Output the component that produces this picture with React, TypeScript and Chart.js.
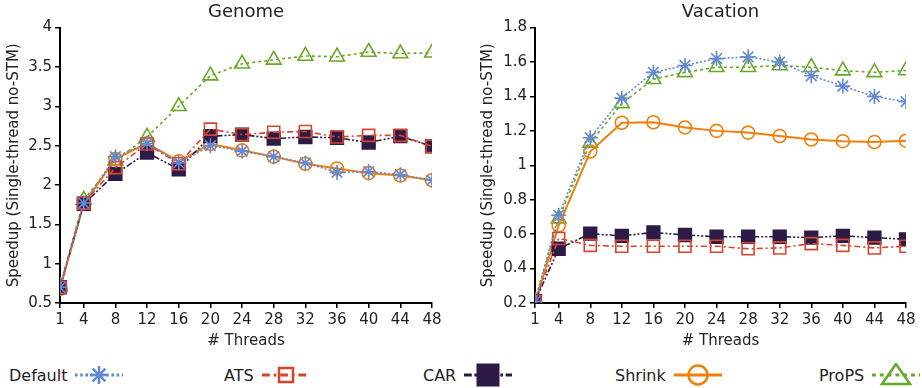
import React, { useEffect, useRef } from "react";
import { Chart, registerables } from "chart.js";

Chart.register(...registerables);

const THREADS = [1, 4, 8, 12, 16, 20, 24, 28, 32, 36, 40, 44, 48];
const SERIES_NAMES = ["Default", "ATS", "CAR", "Shrink", "ProPS"];

const GENOME_DEFAULT = [0.7, 1.77, 2.36, 2.53, 2.28, 2.5, 2.43, 2.36, 2.28, 2.16, 2.17, 2.13, 2.06];
const GENOME_ATS = [0.7, 1.77, 2.22, 2.52, 2.27, 2.71, 2.64, 2.67, 2.68, 2.61, 2.63, 2.63, 2.49];
const GENOME_CAR = [0.7, 1.76, 2.14, 2.41, 2.2, 2.62, 2.64, 2.59, 2.61, 2.6, 2.54, 2.62, 2.49];
const GENOME_SHRINK = [0.68, 1.76, 2.33, 2.53, 2.3, 2.52, 2.44, 2.36, 2.27, 2.21, 2.15, 2.12, 2.06];
const GENOME_PROPS = [0.71, 1.81, 2.31, 2.61, 3.0, 3.39, 3.54, 3.59, 3.64, 3.63, 3.69, 3.67, 3.68];

const VACATION_DEFAULT = [0.21, 0.71, 1.16, 1.39, 1.54, 1.58, 1.62, 1.63, 1.6, 1.52, 1.46, 1.4, 1.37];
const VACATION_ATS = [0.21, 0.575, 0.535, 0.53, 0.53, 0.53, 0.53, 0.515, 0.52, 0.545, 0.535, 0.52, 0.53];
const VACATION_CAR = [0.21, 0.515, 0.603, 0.59, 0.61, 0.595, 0.585, 0.585, 0.585, 0.58, 0.59, 0.58, 0.57];
const VACATION_SHRINK = [0.2, 0.65, 1.08, 1.247, 1.25, 1.22, 1.2, 1.19, 1.17, 1.15, 1.14, 1.135, 1.143];
const VACATION_PROPS = [0.21, 0.69, 1.13, 1.36, 1.5, 1.54, 1.57, 1.57, 1.58, 1.57, 1.55, 1.54, 1.551];

const GENOME_TITLE = "Genome";
const VACATION_TITLE = "Vacation";
const X_TITLE = "# Threads";
const Y_TITLE = "Speedup (Single-thread no-STM)";

const FONT = "'DejaVu Sans', sans-serif";
const TEXT = "#222";

const STYLES = [
  { color: "#6388d4", dash: [2, 2], point: "star", radius: 7.5, fill: false, width: 1.6 },
  { color: "#d8442c", dash: [6, 3, 2, 3], point: "rect", radius: 8.5, fill: false, width: 1.6 },
  { color: "#2c1b45", dash: [6, 2, 2, 2, 2, 2], point: "rect", radius: 9, fill: true, width: 1.6 },
  { color: "#f07e0a", dash: [], point: "circle", radius: 6.5, fill: false, width: 2 },
  { color: "#66a828", dash: [3, 3], point: "triangle", radius: 8.5, fill: false, width: 1.6 },
];

function makeChart(
  canvas: HTMLCanvasElement,
  title: string,
  series: number[][],
  yMin: number,
  yMax: number,
  yStep: number,
  padLeft: number,
  yWidth: number,
  padRight: number
) {
  const datasets = series.map((vals, i) => {
    const s = STYLES[i];
    return {
      label: SERIES_NAMES[i],
      data: THREADS.map((t, j) => ({ x: t, y: vals[j] })),
      borderColor: s.color,
      borderWidth: s.width,
      borderDash: s.dash,
      pointStyle: s.point,
      pointRadius: s.radius,
      pointBorderWidth: 1.6,
      pointBorderColor: s.color,
      pointBackgroundColor: s.fill ? s.color : "rgba(255,255,255,0)",
      fill: false,
      tension: 0,
    };
  });
  return new Chart(canvas, {
    type: "line",
    data: { datasets } as any,
    options: {
      responsive: false,
      animation: false,
      layout: { padding: { left: padLeft, right: padRight, top: 0, bottom: 0 } },
      plugins: {
        legend: { display: false },
        tooltip: { enabled: false },
        title: {
          display: true,
          text: title,
          fullSize: false,
          color: TEXT,
          font: { family: FONT, size: 18, weight: "normal" },
          padding: { top: 2, bottom: 4 },
        },
      },
      scales: {
        x: {
          type: "linear",
          min: 1,
          max: 48,
          afterBuildTicks: (s: any) => {
            s.ticks = THREADS.map((v) => ({ value: v }));
          },
          afterFit: (s: any) => {
            s.height = 49;
          },
          ticks: {
            autoSkip: false,
            maxRotation: 0,
            color: TEXT,
            font: { family: FONT, size: 15 },
            padding: 3,
            callback: (v: any) => String(v),
          },
          grid: { display: true, drawOnChartArea: false, drawTicks: true, tickLength: 5, color: "#000", lineWidth: 1.5 },
          border: { display: true, color: "#000", width: 2 },
          title: {
            display: true,
            text: X_TITLE,
            color: TEXT,
            font: { family: FONT, size: 15 },
            padding: { top: 0, bottom: 2 },
          },
        },
        y: {
          type: "linear",
          min: yMin,
          max: yMax,
          afterFit: (s: any) => {
            s.width = yWidth;
          },
          ticks: {
            stepSize: yStep,
            color: TEXT,
            font: { family: FONT, size: 15 },
            padding: 3,
            callback: (v: any) => String(Number(Number(v).toFixed(2))),
          },
          grid: { display: true, drawOnChartArea: false, drawTicks: true, tickLength: 5, color: "#000", lineWidth: 1.5 },
          border: { display: true, color: "#000", width: 2 },
          title: {
            display: true,
            text: Y_TITLE,
            color: TEXT,
            font: { family: FONT, size: 15 },
            padding: { top: 5, bottom: 0 },
          },
        },
      },
    } as any,
  });
}

function LegendIcon({ index }: { index: number }) {
  const s = STYLES[index];
  const c = s.color;
  const cx = 24;
  const cy = 12;
  let marker: any = null;
  if (s.point === "star") {
    const r = 9;
    const d = r * Math.SQRT1_2;
    marker = (
      <g stroke={c} strokeWidth={2.5}>
        <line x1={cx - r} y1={cy} x2={cx + r} y2={cy} />
        <line x1={cx} y1={cy - r} x2={cx} y2={cy + r} />
        <line x1={cx - d} y1={cy - d} x2={cx + d} y2={cy + d} />
        <line x1={cx - d} y1={cy + d} x2={cx + d} y2={cy - d} />
      </g>
    );
  } else if (s.point === "rect" && !s.fill) {
    marker = <rect x={cx - 7} y={cy - 7} width={14} height={14} fill="none" stroke={c} strokeWidth={2.5} />;
  } else if (s.point === "rect") {
    marker = <rect x={cx - 11} y={cy - 11} width={22} height={22} fill={c} stroke={c} strokeWidth={1} />;
  } else if (s.point === "circle") {
    marker = <circle cx={cx} cy={cy} r={9.5} fill="none" stroke={c} strokeWidth={2.5} />;
  } else {
    marker = (
      <polygon
        points={`${cx},${cy - 11} ${cx - 14},${cy + 9} ${cx + 14},${cy + 9}`}
        fill="none"
        stroke={c}
        strokeWidth={2.5}
      />
    );
  }
  return (
    <svg width={48} height={24} style={{ display: "block" }}>
      <line
        x1={0}
        y1={cy}
        x2={48}
        y2={cy}
        stroke={c}
        strokeWidth={3}
        strokeDasharray={s.dash.length ? s.dash.map((v) => v * 1.3).join(" ") : undefined}
      />
      {marker}
    </svg>
  );
}

const LEGEND_LEFT = [9, 224, 423, 615, 819];

export default function App() {
  const leftRef = useRef<HTMLCanvasElement | null>(null);
  const rightRef = useRef<HTMLCanvasElement | null>(null);

  useEffect(() => {
    const a = makeChart(
      leftRef.current!,
      GENOME_TITLE,
      [GENOME_DEFAULT, GENOME_ATS, GENOME_CAR, GENOME_SHRINK, GENOME_PROPS],
      0.5,
      4,
      0.5,
      0,
      60,
      28
    );
    const b = makeChart(
      rightRef.current!,
      VACATION_TITLE,
      [VACATION_DEFAULT, VACATION_ATS, VACATION_CAR, VACATION_SHRINK, VACATION_PROPS],
      0.2,
      1.8,
      0.2,
      14,
      61,
      16
    );
    return () => {
      a.destroy();
      b.destroy();
    };
  }, []);

  return (
    <div style={{ position: "absolute", left: 0, top: 0, width: 922, height: 388, background: "#fff", fontFamily: FONT }}>
      <canvas ref={leftRef} width={460} height={352} style={{ position: "absolute", left: 0, top: 0 }} />
      <canvas ref={rightRef} width={462} height={352} style={{ position: "absolute", left: 460, top: 0 }} />
      {SERIES_NAMES.map((name, i) => (
        <div
          key={name}
          style={{
            position: "absolute",
            left: LEGEND_LEFT[i],
            top: 363,
            height: 24,
            display: "flex",
            alignItems: "center",
            gap: 8,
            fontSize: 16,
            color: TEXT,
            whiteSpace: "nowrap",
          }}
        >
          <span>{name}</span>
          <LegendIcon index={i} />
        </div>
      ))}
    </div>
  );
}
